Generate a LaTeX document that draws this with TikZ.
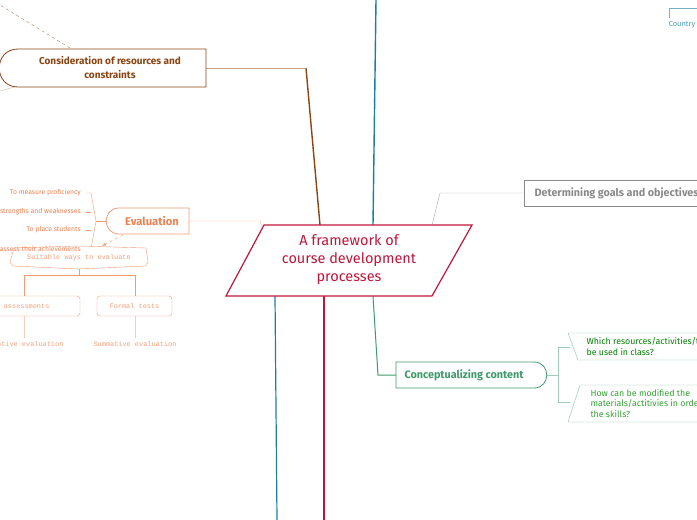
\documentclass[tikz,border=0pt]{standalone}
\usepackage{fontspec}
\setmainfont{Fira Sans}
\newfontfamily\monof{Liberation Mono}
\begin{document}
\begin{tikzpicture}[x=1pt,y=-1pt,
  lab/.style={inner sep=0pt, font=\fontsize{6.8}{8}\selectfont, text=orng},
  mono/.style={inner sep=0pt, font=\monof\fontsize{6.9}{7}\selectfont, text=orng!75}]
\definecolor{crimson}{HTML}{C0163A}
\definecolor{brn}{HTML}{8B4513}
\definecolor{teal2}{HTML}{1A7FA0}
\definecolor{grn}{HTML}{3D9A6A}
\definecolor{orng}{HTML}{F08050}
\definecolor{gry}{HTML}{8A8A8A}
\clip (0,0) rectangle (697,520);
\useasboundingbox (0,0) rectangle (697,520);
% main branch lines
\draw[brn, line width=1.4pt] (320,225) -- (306,68);
\draw[brn!50] (306,68) -- (206,68);
\draw[teal2, line width=1.4pt] (373,225) -- (376,0);
\draw[teal2, line width=1.2pt] (275,296) -- (277,520);
\draw[crimson, line width=1.4pt] (324,296) -- (324,520);
\draw[gry!70] (432,225) -- (440,193) -- (524,193);
\draw[grn, line width=1pt] (373,296) -- (378,375) -- (396,375);
\draw[orng!60] (264,232) -- (260,221) -- (189,221);
% center
\draw[crimson, line width=1.2pt, fill=white] (264,225) -- (472,225) -- (432,296) -- (226,296) -- cycle;
\node[text=crimson, align=center, font=\fontsize{14.5}{18}\selectfont] (c) at (349,260) {A framework of\\course development\\processes};
% consideration
\draw[brn!70, dashed] (70,48) -- (0,5);
\draw[brn!40] (0,91) -- (18,86);
\draw[brn, line width=0.8pt, fill=white] (206,49) -- (206,87) -- (18,87) .. controls (-7,87) and (-7,49) .. (18,49) -- cycle;
\node[text=brn, font=\bfseries\fontsize{10}{14}\selectfont, align=center] (cons) at (110,68) {Consideration of resources and\\constraints};
% Country
\draw[teal2!60] (669,18) -- (669,8) -- (697,8);
\node[text=teal2!80, font=\fontsize{7.5}{8}\selectfont, inner sep=0pt] (ctry) at (682,25) {Country};
% determining
\draw[gry, fill=white] (524,180) rectangle (720,206);
\node[text=gry, font=\bfseries\fontsize{10.8}{12}\selectfont, anchor=west] (det) at (531,193) {Determining goals and objectives};
% conceptualizing
\draw[grn, line width=0.8pt, fill=white] (396,362) -- (534,362) .. controls (551,362) and (551,388) .. (534,388) -- (396,388) -- cycle;
\node[text=grn, font=\bfseries\fontsize{10.8}{12}\selectfont] (con) at (464,375) {Conceptualizing content};
\draw[grn!50] (547,375) -- (558,375);
\draw[grn!50] (570,347) -- (558,347) -- (558,402) -- (570,402);
\draw[grn!60, fill=white] (568,333) -- (710,333) -- (710,360) -- (578,360) -- cycle;
\node[text=green!50!black, font=\fontsize{8.8}{10.5}\selectfont, anchor=west, align=left] (q1) at (583,346.5) {Which resources/activities/t\\be used in class?};
\draw[grn!60, fill=white] (580,385) -- (710,385) -- (710,422) -- (568,422) -- cycle;
\node[text=green!55!black!80, font=\fontsize{8.8}{10.5}\selectfont, anchor=west, align=left] (q2) at (587,403.5) {How can be modified the\\materials/actitivies in order\\the skills?};
% evaluation
\draw[orng!80, line width=0.8pt, fill=white] (189,208) -- (189,234) -- (119,234) .. controls (102,234) and (102,208) .. (119,208) -- cycle;
\node[text=orng, font=\bfseries\fontsize{11.2}{12}\selectfont] (ev) at (152,221) {Evaluation};
\draw[orng!80] (106,221) -- (96,221);
\draw[orng!80] (86,193) -- (91,193) -- (96,221) -- (91,249) -- (86,249);
\draw[orng!80] (86,212) -- (91,212) (86,230) -- (91,230);
\node[lab, anchor=east] (e1) at (81,193) {To measure proficiency};
\node[lab, anchor=east] (e2) at (81,212) {strengths and weaknesses};
\node[lab, anchor=east] (e3) at (81,230) {To place students};
\draw[orng!80, dashed, -latex] (123,235) -- (102,246);
\draw[orng!80, fill=white] (14,248) -- (79,246) -- (146,248) -- (148,262) -- (145,266) -- (79,269) -- (13,266) -- (10,262) -- cycle;
\node[lab, anchor=east] (e4) at (81,249) {assess their achievements};
\node[mono] (sw) at (79,258) {Suitable ways to evaluate};
\draw[orng!80] (79,269) -- (79,275) (24,296) -- (24,275) -- (135,275) -- (135,296);
\draw[orng!80, rounded corners=3pt] (-60,296) rectangle (80,316);
\draw[orng!80, rounded corners=3pt] (97,296) rectangle (172,316);
\node[mono] (ia) at (8,306) {Informal assessments};
\node[mono] (ft) at (134.5,306) {Formal tests};
\draw[orng!40] (24,316) -- (24,338) (135,316) -- (135,338);
\node[mono] (fe) at (22,344) {Formative evaluation};
\node[mono] (se) at (135,344) {Summative evaluation};
\end{tikzpicture}
\end{document}
